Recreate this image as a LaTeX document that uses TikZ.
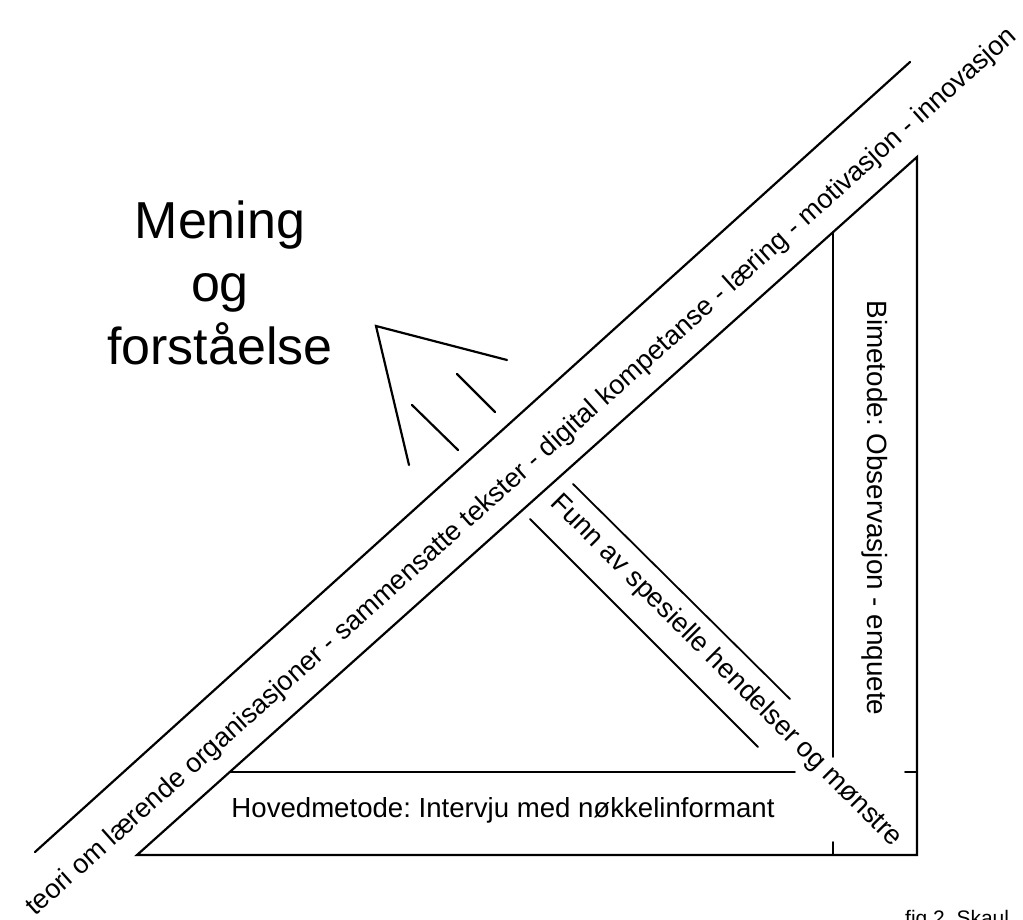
\documentclass[tikz,border=0pt]{standalone}
\usepackage{fontspec}
\usepackage{graphicx}
\setmainfont{Liberation Sans}
\frenchspacing
\begin{document}
\begin{tikzpicture}[x=1pt,y=-1pt,
  ln/.style={line width=2.2pt, line cap=round, line join=miter},
  thin/.style={line width=1.8pt, line cap=round},
  lbl/.style={inner sep=0pt, text=black}]
\useasboundingbox (0,0) rectangle (1023,920);
\clip (0,0) rectangle (1023,920);
% outer triangle
\coordinate (BL) at (137,855);
\coordinate (BR) at (917,855);
\coordinate (TR) at (917,157);
\draw[ln] (BL) -- (BR) -- (TR) -- cycle;
% upper parallel line
\coordinate (U1) at (35,852);
\coordinate (U2) at (910,62);
\draw[ln] (U1) -- (U2);
% inner horizontal and vertical
\coordinate (H1) at (230,772);
\coordinate (H2) at (795,772);
\draw[thin] (H1) -- (H2);
\coordinate (V1) at (833,232);
\coordinate (V2) at (833,757);
\draw[thin] (V1) -- (V2);
% ticks
\coordinate (T1) at (905,772);
\coordinate (T2) at (917,772);
\draw[thin] (T1) -- (T2);
\coordinate (T3) at (833,842);
\coordinate (T4) at (833,855);
\draw[thin] (T3) -- (T4);
% Funn lines
\coordinate (F1a) at (573,484);
\coordinate (F1b) at (790,699);
\coordinate (F2a) at (530,519);
\coordinate (F2b) at (758,747);
\draw[thin] (F1a) -- (F1b);
\draw[thin] (F2a) -- (F2b);
% arrow
\coordinate (A0) at (376,326);
\coordinate (A1) at (507,360);
\coordinate (A2) at (409,465);
\draw[ln] (A1) -- (A0) -- (A2);
\coordinate (S1a) at (412,405);
\coordinate (S1b) at (458,450);
\coordinate (S2a) at (457,374);
\coordinate (S2b) at (495,412);
\draw[ln] (S1a) -- (S1b);
\draw[ln] (S2a) -- (S2b);
% texts
\node[lbl, align=center, font=\fontsize{52}{63}\selectfont] (mening) at (220,283) {Mening\\og\\forståelse};
\node[lbl, rotate=41.8] (diag) at (522,472) {\resizebox{1318pt}{!}{teori om lærende organisasjoner - sammensatte tekster - digital kompetanse - læring - motivasjon - innovasjon}};
\node[lbl] (hoved) at (503,810) {\resizebox{543pt}{!}{Hovedmetode: Intervju med nøkkelinformant}};
\node[lbl, rotate=-90] (bi) at (875,508) {\resizebox{415pt}{!}{Bimetode: Observasjon - enquete}};
\node[lbl, rotate=-45] (funn) at (726,671) {\resizebox{485pt}{!}{Funn av spesielle hendelser og mønstre}};
\node[lbl, anchor=base west, font=\fontsize{21}{23}\selectfont] (fig) at (905,925) {fig 2. Skaul};
\end{tikzpicture}
\end{document}
